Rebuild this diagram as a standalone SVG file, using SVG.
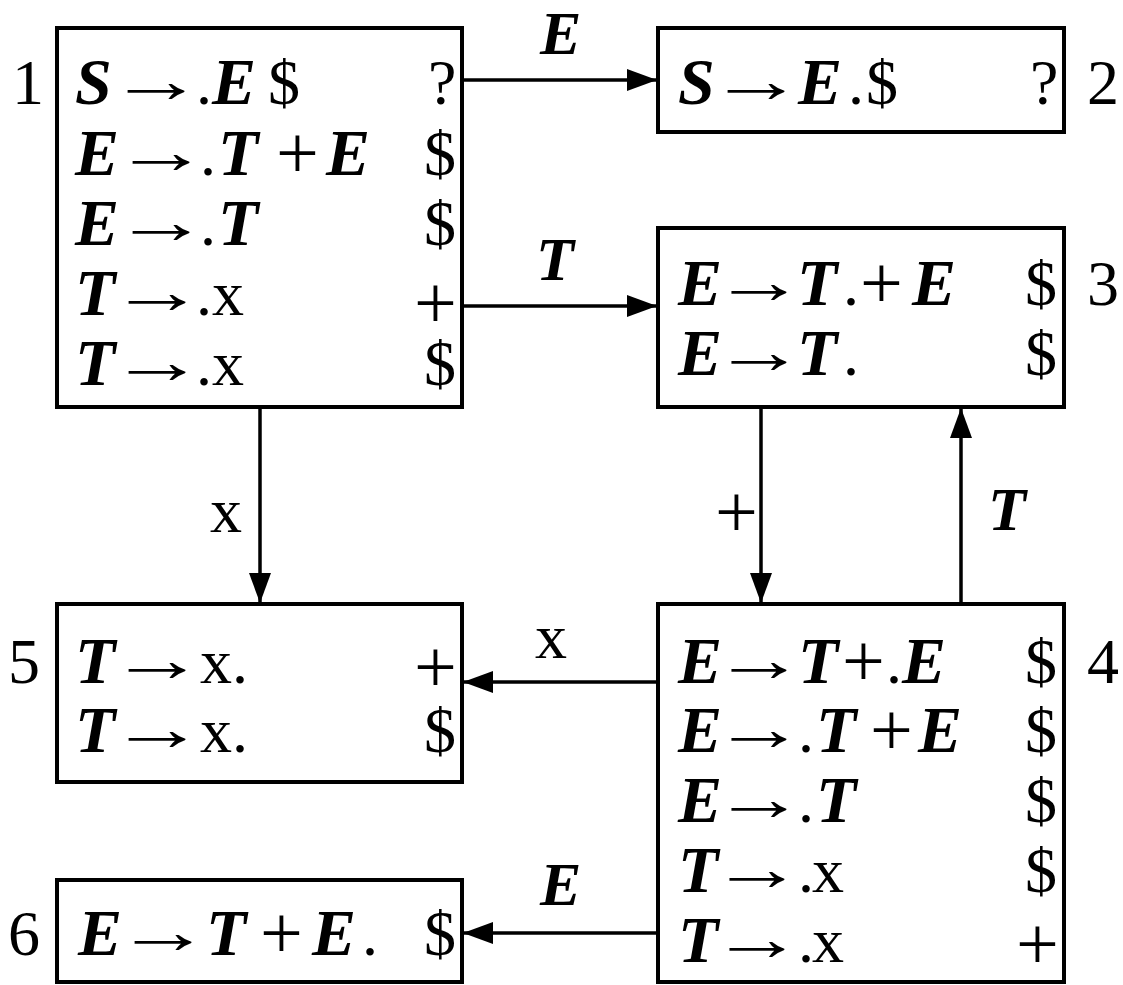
<svg xmlns="http://www.w3.org/2000/svg" width="1123" height="985" viewBox="0 0 1123 985">
<defs>
<marker id="ah" markerUnits="userSpaceOnUse" markerWidth="32" markerHeight="22" refX="30" refY="11" orient="auto">
<path d="M0,0 L30,11 L0,22 z" fill="#000"/>
</marker>
</defs>
<style>
.box{fill:#fff;stroke:#000;stroke-width:4}
.edge{fill:none;stroke:#000;stroke-width:3.5;marker-end:url(#ah)}
text{font-family:"Liberation Serif","Times New Roman",serif;font-size:64px;fill:#000}
.v{font-weight:bold;font-style:italic;font-size:66px}
.p{font-size:76px}
.el{font-size:62px}
.ar{text-anchor:middle}
</style>
<g id="connectors">
<line class="edge" x1="462" y1="80" x2="657" y2="80"/>
<line class="edge" x1="462" y1="306" x2="657" y2="306"/>
<line class="edge" x1="260" y1="407" x2="260" y2="603"/>
<line class="edge" x1="761" y1="407" x2="761" y2="603"/>
<line class="edge" x1="961" y1="604" x2="961" y2="408"/>
<line class="edge" x1="658" y1="682" x2="463" y2="682"/>
<line class="edge" x1="658" y1="933" x2="463" y2="933"/>
<text class="v el" x="540" y="54">E</text>
<text class="v el" x="536" y="280">T</text>
<text x="210" y="532">x</text>
<text class="p" x="715" y="537">+</text>
<text class="v el" x="988" y="530">T</text>
<text x="535" y="658">x</text>
<text class="v el" x="540" y="905">E</text>
</g>
<g id="node1">
<rect class="box" x="57" y="28" width="405" height="379"/>
<text x="12" y="104">1</text>
<text class="v" x="75" y="104">S</text>
<text class="ar" transform="translate(156,102) scale(1.5,1)">→</text>
<text y="104"><tspan x="196">.</tspan><tspan class="v" x="212">E</tspan><tspan x="268">$</tspan></text>
<text x="428" y="104">?</text>
<text class="v" x="75" y="175">E</text>
<text class="ar" transform="translate(161,173) scale(1.5,1)">→</text>
<text y="175"><tspan x="200">.</tspan><tspan class="v" x="218">T</tspan></text>
<text class="p" x="276" y="178">+</text>
<text class="v" x="326" y="175">E</text>
<text x="424" y="175">$</text>
<text class="v" x="75" y="245">E</text>
<text class="ar" transform="translate(161,243) scale(1.5,1)">→</text>
<text y="245"><tspan x="200">.</tspan><tspan class="v" x="218">T</tspan></text>
<text x="424" y="245">$</text>
<text class="v" x="75" y="315">T</text>
<text class="ar" transform="translate(157,313) scale(1.5,1)">→</text>
<text y="315"><tspan x="196">.</tspan><tspan x="212">x</tspan></text>
<text class="p" x="414" y="328">+</text>
<text class="v" x="75" y="385">T</text>
<text class="ar" transform="translate(157,383) scale(1.5,1)">→</text>
<text y="385"><tspan x="196">.</tspan><tspan x="212">x</tspan></text>
<text x="424" y="385">$</text>
</g>
<g id="node2">
<rect class="box" x="658" y="28" width="406" height="104"/>
<text x="1087" y="104">2</text>
<text class="v" x="678" y="104">S</text>
<text class="ar" transform="translate(756,102) scale(1.5,1)">→</text>
<text y="104"><tspan class="v" x="798">E</tspan><tspan x="848">.</tspan><tspan x="866">$</tspan></text>
<text x="1030" y="104">?</text>
</g>
<g id="node3">
<rect class="box" x="658" y="228" width="406" height="179"/>
<text x="1087" y="305">3</text>
<text class="v" x="678" y="305">E</text>
<text class="ar" transform="translate(759,303) scale(1.45,1)">→</text>
<text y="305"><tspan class="v" x="797">T</tspan><tspan x="843">.</tspan></text>
<text class="p" x="860" y="308">+</text>
<text class="v" x="912" y="305">E</text>
<text x="1025" y="305">$</text>
<text class="v" x="678" y="375">E</text>
<text class="ar" transform="translate(759,373) scale(1.45,1)">→</text>
<text y="375"><tspan class="v" x="797">T</tspan><tspan x="843">.</tspan></text>
<text x="1025" y="375">$</text>
</g>
<g id="node4">
<rect class="box" x="658" y="604" width="406" height="378"/>
<text x="1087" y="683">4</text>
<text class="v" x="678" y="683">E</text>
<text class="ar" transform="translate(759,681) scale(1.45,1)">→</text>
<text class="v" x="798" y="683">T</text>
<text class="p" x="842" y="686">+</text>
<text y="683"><tspan x="886">.</tspan><tspan class="v" x="902">E</tspan></text>
<text x="1025" y="683">$</text>
<text class="v" x="678" y="752">E</text>
<text class="ar" transform="translate(759,750) scale(1.45,1)">→</text>
<text y="752"><tspan x="798">.</tspan><tspan class="v" x="816">T</tspan></text>
<text class="p" x="870" y="755">+</text>
<text class="v" x="918" y="752">E</text>
<text x="1025" y="752">$</text>
<text class="v" x="678" y="822">E</text>
<text class="ar" transform="translate(759,820) scale(1.45,1)">→</text>
<text y="822"><tspan x="798">.</tspan><tspan class="v" x="816">T</tspan></text>
<text x="1025" y="822">$</text>
<text class="v" x="678" y="892">T</text>
<text class="ar" transform="translate(757,890) scale(1.45,1)">→</text>
<text y="892"><tspan x="798">.</tspan><tspan x="812">x</tspan></text>
<text x="1025" y="892">$</text>
<text class="v" x="678" y="962">T</text>
<text class="ar" transform="translate(757,960) scale(1.45,1)">→</text>
<text y="962"><tspan x="798">.</tspan><tspan x="812">x</tspan></text>
<text class="p" x="1016" y="969">+</text>
</g>
<g id="node5">
<rect class="box" x="57" y="604" width="405" height="178"/>
<text x="8" y="683">5</text>
<text class="v" x="75" y="683">T</text>
<text class="ar" transform="translate(157,681) scale(1.5,1)">→</text>
<text y="683"><tspan x="200">x</tspan><tspan x="232">.</tspan></text>
<text class="p" x="414" y="692">+</text>
<text class="v" x="75" y="752">T</text>
<text class="ar" transform="translate(157,750) scale(1.5,1)">→</text>
<text y="752"><tspan x="200">x</tspan><tspan x="232">.</tspan></text>
<text x="424" y="752">$</text>
</g>
<g id="node6">
<rect class="box" x="57" y="880" width="405" height="102"/>
<text x="8" y="955">6</text>
<text class="v" x="78" y="955">E</text>
<text class="ar" transform="translate(163,953) scale(1.5,1)">→</text>
<text class="v" x="206" y="955">T</text>
<text class="p" x="260" y="958">+</text>
<text y="955"><tspan class="v" x="312">E</tspan><tspan x="362">.</tspan></text>
<text x="424" y="955">$</text>
</g>
</svg>
